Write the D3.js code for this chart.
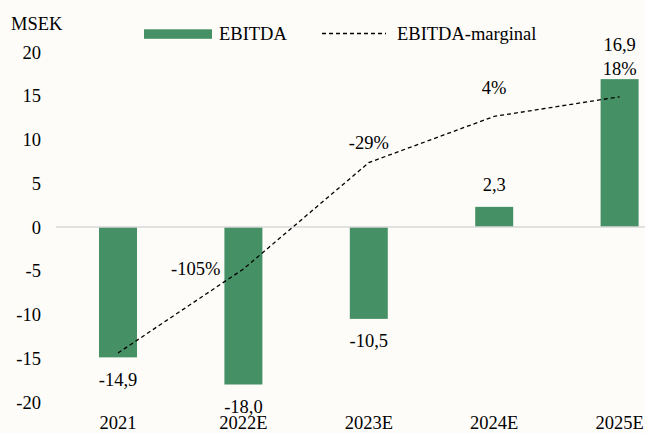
<!DOCTYPE html>
<html>
<head>
<meta charset="utf-8">
<script src="https://cdn.jsdelivr.net/npm/d3@7"></script>
<style>
  html, body { margin: 0; padding: 0; background: #fdfcf9; }
  svg { display: block; font-family: "Liberation Serif", "Times New Roman", serif; }
</style>
</head>
<body>
<div id="chart"></div>
<script>
// data
const years = ["2021", "2022E", "2023E", "2024E", "2025E"];
const ebitda = [-14.9, -18.0, -10.5, 2.3, 16.9];
const margin = [-165, -105, -29, 4, 18];
const marginLabels = [null, "-105%", "-29%", "4%", "18%"];
const yTicks = [-20, -15, -10, -5, 0, 5, 10, 15, 20];

const W = 645, H = 433;
const green = "#459165";
const fontSize = 18.5;
// swedish decimal comma, plain hyphen for minus
const fmt = v => d3.format(".1f")(v).replace(".", ",").replace("\u2212", "-");

const svg = d3.select("#chart").append("svg")
    .attr("width", W)
    .attr("height", H);

svg.append("rect").attr("width", W).attr("height", H).attr("fill", "#fdfcf9");

// scales - the category axis runs past the right edge like in the source
const x = d3.scaleBand()
    .domain(years)
    .range([55.3, 682.3])
    .paddingInner(0.697)
    .paddingOuter(0.3485);
const cx = d => x(d) + x.bandwidth() / 2;

const y = d3.scaleLinear().domain([-20, 20]).range([402, 52]);
// hidden secondary axis for the margin line
const y2 = d3.scaleLinear().domain([-200, 50]).range([402, 52]);

// y tick labels
svg.append("g")
    .selectAll("text")
    .data(yTicks)
    .join("text")
        .attr("x", 41)
        .attr("y", d => y(d))
        .attr("dy", "0.36em")
        .attr("text-anchor", "end")
        .attr("font-size", fontSize)
        .text(d => String(d));

svg.append("text")
    .attr("x", 11)
    .attr("y", 30)
    .attr("font-size", fontSize)
    .text("MSEK");

// bars
const data = years.map((yr, i) => ({year: yr, v: ebitda[i], m: margin[i], ml: marginLabels[i]}));

svg.append("g")
    .selectAll("rect")
    .data(data)
    .join("rect")
        .attr("x", d => x(d.year))
        .attr("width", x.bandwidth())
        .attr("y", d => y(Math.max(0, d.v)))
        .attr("height", d => Math.abs(y(d.v) - y(0)))
        .attr("fill", green);

// zero line
svg.append("line")
    .attr("x1", 56).attr("x2", W)
    .attr("y1", y(0)).attr("y2", y(0))
    .attr("stroke", "#d9d9d9")
    .attr("stroke-width", 1.5);

// margin line
const line = d3.line()
    .x(d => cx(d.year))
    .y(d => y2(d.m));

svg.append("path")
    .datum(data)
    .attr("d", line)
    .attr("fill", "none")
    .attr("stroke", "#000")
    .attr("stroke-width", 1.3)
    .attr("stroke-dasharray", "4,3");

// margin labels (first one is left of the point, the rest above)
const marginDy = [0, 6, -14, -22, -22];
svg.append("g")
    .selectAll("text")
    .data(data.filter(d => d.ml))
    .join("text")
        .attr("x", d => d.year === "2022E" ? cx(d.year) - 23 : cx(d.year))
        .attr("y", d => y2(d.m) + marginDy[years.indexOf(d.year)])
        .attr("text-anchor", d => d.year === "2022E" ? "end" : "middle")
        .attr("font-size", fontSize)
        .text(d => d.ml);

// value labels, pushed above the margin label if they would collide
const valueY = d => {
    if (d.v < 0) return y(d.v) + 28.5;
    let yy = y(d.v) - 16;
    const i = years.indexOf(d.year);
    if (d.ml) {
        const my = y2(d.m) + marginDy[i];
        if (Math.abs(my - yy) < 20) yy = my - 24;
    }
    return yy;
};

svg.append("g")
    .selectAll("text")
    .data(data)
    .join("text")
        .attr("x", d => cx(d.year))
        .attr("y", valueY)
        .attr("text-anchor", "middle")
        .attr("font-size", fontSize)
        .text(d => fmt(d.v));

// category labels
svg.append("g")
    .selectAll("text")
    .data(years)
    .join("text")
        .attr("x", d => cx(d))
        .attr("y", 429)
        .attr("text-anchor", "middle")
        .attr("font-size", fontSize)
        .text(d => d);

// legend
const legend = svg.append("g");
legend.append("rect")
    .attr("x", 144).attr("y", 29.3)
    .attr("width", 68).attr("height", 9.5)
    .attr("fill", green);
legend.append("text")
    .attr("x", 219).attr("y", 40)
    .attr("font-size", fontSize)
    .text("EBITDA");
legend.append("line")
    .attr("x1", 322).attr("x2", 386)
    .attr("y1", 33.5).attr("y2", 33.5)
    .attr("stroke", "#000")
    .attr("stroke-width", 1.3)
    .attr("stroke-dasharray", "4,3");
legend.append("text")
    .attr("x", 397).attr("y", 40)
    .attr("font-size", fontSize)
    .text("EBITDA-marginal");
</script>
</body>
</html>
